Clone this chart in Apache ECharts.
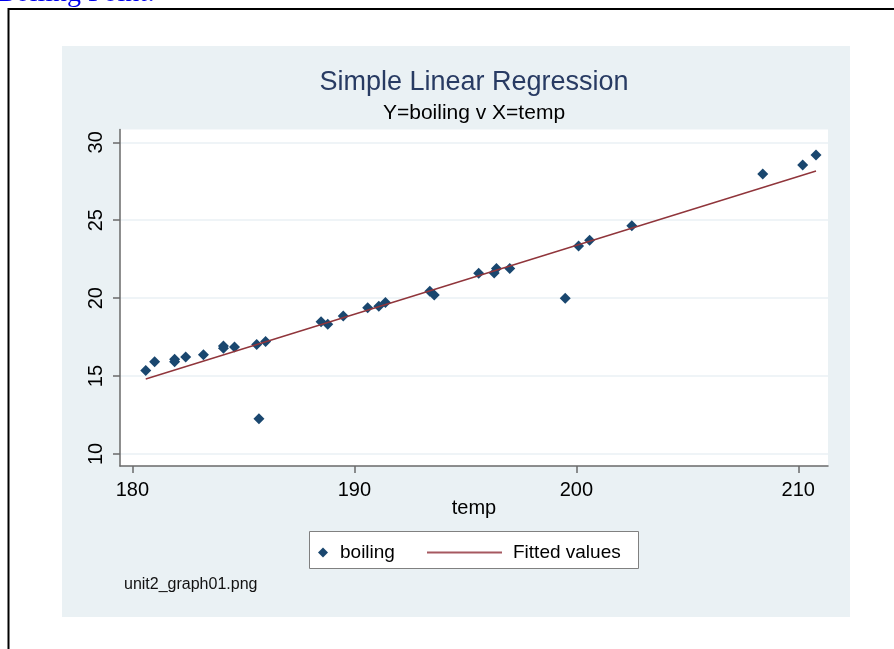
<!DOCTYPE html>
<html>
<head>
<meta charset="utf-8">
<script src="https://cdn.jsdelivr.net/npm/echarts@6/dist/echarts.min.js"></script>
<style>
html,body{margin:0;padding:0;background:#fff;}
#c{width:894px;height:649px;}
</style>
</head>
<body>
<div id="c"></div>
<script>
// ---- data ----
const temps   = [210.8,210.2,208.4,202.5,200.6,200.1,199.5,197.0,196.4,196.3,195.6,193.4,193.6,191.4,191.1,190.6,189.5,188.8,188.5,185.7,186.0,185.6,184.1,184.6,184.1,183.2,182.4,181.9,181.9,181.0,180.6];
const boiling = [29.18,28.54,27.96,24.65,23.72,23.35,20.0,21.9,21.9,21.62,21.6,20.44,20.2,19.72,19.48,19.38,18.85,18.33,18.48,12.26,17.22,17.02,16.93,16.86,16.78,16.37,16.22,16.08,15.92,15.92,15.35];
const fitX = [180.6, 210.8];
const fitY = [14.81, 28.16];
const xTicks = [180, 190, 200, 210];
const yTicks = [10, 15, 20, 25, 30];

const scatterData = temps.map((t, i) => [t, boiling[i]]);
const fitData = fitX.map((x, i) => [x, fitY[i]]);

const chart = echarts.init(document.getElementById('c'), null, {renderer: 'canvas'});
const FONT = 'Liberation Sans';

chart.setOption({
  animation: false,
  backgroundColor: '#ffffff',
  textStyle: {fontFamily: FONT},
  graphic: [
    {type: 'text', z: 1, style: {text: 'Boiling Point:', x: -3, y: 8, fill: '#0000ee', font: '28px "Liberation Serif"', verticalAlign: 'bottom'}},
    {type: 'line', z: 1, shape: {x1: 8.5, y1: 9, x2: 894, y2: 9}, style: {stroke: '#000', lineWidth: 2}},
    {type: 'line', z: 1, shape: {x1: 8.5, y1: 8, x2: 8.5, y2: 649}, style: {stroke: '#000', lineWidth: 2}},
    {type: 'rect', z: -10, shape: {x: 62, y: 46, width: 788, height: 571}, style: {fill: '#eaf1f4'}},
    {type: 'rect', z: 1, shape: {x: 309.5, y: 531.5, width: 329, height: 37}, style: {fill: '#fff', stroke: '#808080', lineWidth: 1}},
    {type: 'text', z: 2, style: {text: 'unit2_graph01.png', x: 124, y: 585, fill: '#111', font: '16px "Liberation Sans"', verticalAlign: 'middle'}}
  ],
  title: {
    text: 'Simple Linear Regression',
    subtext: 'Y=boiling v X=temp',
    left: 474, top: 69, textAlign: 'center', itemGap: 7, padding: 0,
    textStyle: {fontFamily: FONT, fontSize: 27, fontWeight: 'normal', color: '#283b63'},
    subtextStyle: {fontFamily: FONT, fontSize: 21, color: '#000'}
  },
  legend: [
    {data: [{name: 'boiling', icon: 'diamond'}], left: 318, top: 543, padding: 0, itemWidth: 10, itemHeight: 10,
     textStyle: {fontFamily: FONT, fontSize: 19, color: '#000', padding: [0, 0, 0, 7]}, selectedMode: false},
    {data: [{name: 'Fitted values', icon: 'rect'}], left: 427, top: 543, padding: 0, itemWidth: 75, itemHeight: 2,
     itemStyle: {color: '#a65860'},
     textStyle: {fontFamily: FONT, fontSize: 19, color: '#000', padding: [0, 0, 0, 6]}, selectedMode: false}
  ],
  grid: {left: 120, right: 66, top: 129.5, bottom: 183, show: true, backgroundColor: '#ffffff', borderWidth: 0},
  xAxis: {
    type: 'value', min: 179.44, max: 211.34,
    name: 'temp', nameLocation: 'middle', nameGap: 32, nameMoveOverlap: false,
    nameTextStyle: {fontFamily: FONT, fontSize: 20, color: '#000'},
    axisLine: {show: true, onZero: false, lineStyle: {color: '#6a6a6a', width: 1.5}},
    axisTick: {show: true, length: 7, customValues: xTicks, lineStyle: {color: '#6a6a6a', width: 1.5}},
    axisLabel: {customValues: xTicks, margin: 14, fontFamily: FONT, fontSize: 20, color: '#000'},
    splitLine: {show: false}
  },
  yAxis: {
    type: 'value', min: 9.23, max: 30.82,
    axisLine: {show: true, onZero: false, lineStyle: {color: '#6a6a6a', width: 1.5}},
    axisTick: {show: true, length: 7, customValues: yTicks, lineStyle: {color: '#6a6a6a', width: 1.5}},
    axisLabel: {customValues: yTicks, rotate: 90, margin: 14, fontFamily: FONT, fontSize: 20, color: '#000'},
    splitLine: {show: true, lineStyle: {color: '#eaf1f4', width: 1.5}}
  },
  series: [
    {name: 'boiling', type: 'scatter', data: scatterData, symbol: 'diamond', symbolSize: 11,
     itemStyle: {color: '#1a476f', opacity: 1}, emphasis: {disabled: true}},
    {name: 'Fitted values', type: 'line', data: fitData, symbol: 'none', showSymbol: false,
     lineStyle: {color: '#90353b', width: 1.4}, itemStyle: {color: '#90353b'}, emphasis: {disabled: true}}
  ]
});
</script>
</body>
</html>
